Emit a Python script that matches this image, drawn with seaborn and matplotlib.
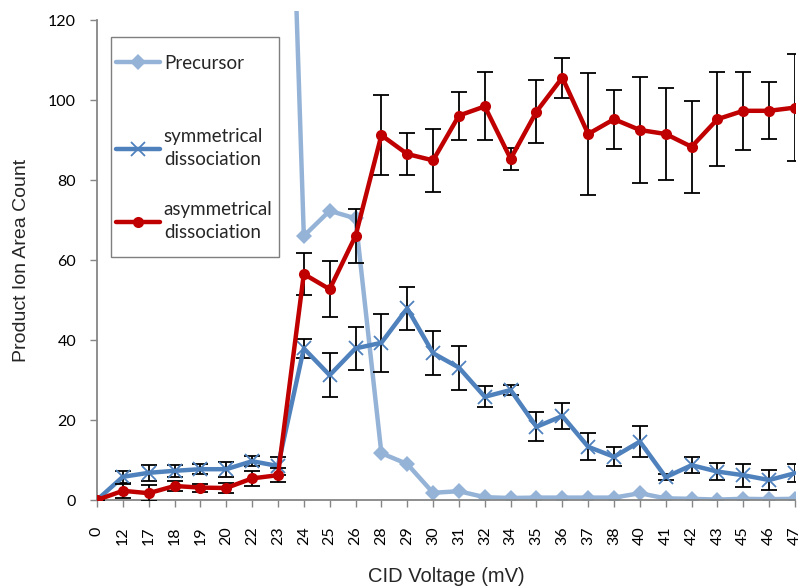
import numpy as np
import pandas as pd
import matplotlib
matplotlib.use("Agg")
import matplotlib.pyplot as plt
from matplotlib.patches import Rectangle
import seaborn as sns

voltages = ["0", "12", "17", "18", "19", "20", "22", "23", "24", "25", "26", "28", "29", "30",
            "31", "32", "34", "35", "36", "37", "38", "40", "41", "42", "43", "45", "46", "47"]

precursor = [300, 300, 300, 300, 300, 295, 285, 266, 66, 72.3, 70.4, 11.7, 9.0, 1.8,
             2.2, 0.7, 0.5, 0.6, 0.6, 0.6, 0.6, 1.7, 0.4, 0.3, 0.1, 0.3, 0.2, 0.3]

sym = [0, 5.8, 6.8, 7.3, 7.7, 7.7, 9.7, 8.5, 37.9, 31.2, 37.9, 39.3, 47.9, 36.7,
       33.1, 25.8, 27.5, 18.3, 21.0, 13.3, 10.8, 14.6, 5.7, 8.7, 7.1, 6.2, 5.0, 6.7]
sym_err = [0, 1.5, 2.0, 1.5, 1.2, 1.9, 1.2, 2.3, 2.4, 5.5, 5.3, 7.3, 5.4, 5.5,
           5.5, 2.6, 1.2, 3.6, 3.3, 3.4, 2.4, 3.8, 0.8, 2.0, 2.1, 2.9, 2.6, 2.3]

asym = [0, 2.3, 1.7, 3.5, 3.1, 3.0, 5.4, 6.2, 56.5, 52.7, 66.0, 91.2, 86.5, 84.9,
        96.1, 98.4, 85.3, 97.1, 105.6, 91.5, 95.2, 92.5, 91.5, 88.3, 95.2, 97.3, 97.3, 98.1]
asym_err = [0, 1.8, 2.0, 1.3, 1.0, 1.3, 1.8, 1.8, 5.3, 7.0, 6.8, 10.0, 5.3, 7.9,
            6.0, 8.5, 2.7, 7.8, 5.0, 15.3, 7.4, 13.3, 11.5, 11.5, 11.7, 9.8, 7.1, 13.4]

labels = ["Precursor", "symmetrical\ndissociation", "asymmetrical\ndissociation"]
colors = ["#95B3D7", "#4F81BD", "#C00000"]

pos = np.arange(len(voltages))
df = pd.DataFrame({"pos": pos, "precursor": precursor, "sym": sym, "asym": asym})

sns.set_style("white")
plt.rcParams['font.family'] = ['Liberation Sans', 'DejaVu Sans']

fig = plt.figure(figsize=(8.04, 5.88), dpi=100)
ax = fig.add_axes([97 / 804, 1 - 500 / 588, 698 / 804, 480 / 588])

sns.lineplot(data=df, x="pos", y="precursor", ax=ax, color=colors[0], linewidth=3.2,
             marker="D", markersize=8, markeredgewidth=0, label=labels[0], zorder=2)
prec_line = ax.lines[-1]
ax.errorbar(pos, sym, yerr=sym_err, fmt="none", ecolor="black", elinewidth=1.3,
            capsize=5.5, capthick=1.3, zorder=3)
sns.lineplot(data=df, x="pos", y="sym", ax=ax, color=colors[1], linewidth=3.2,
             marker="x", markersize=10, markeredgewidth=1.3, markeredgecolor=colors[1],
             label=labels[1], zorder=3)
ax.errorbar(pos, asym, yerr=asym_err, fmt="none", ecolor="black", elinewidth=1.3,
            capsize=5.5, capthick=1.3, zorder=4)
sns.lineplot(data=df, x="pos", y="asym", ax=ax, color=colors[2], linewidth=3.2,
             marker="o", markersize=8, markeredgewidth=0, label=labels[2], zorder=4)

ax.set_xlim(0, len(voltages) - 1)
ax.set_ylim(0, 120)

# the plot area extends a little above the 120 tick, as in the reference
clip = Rectangle((0, 0), 1, 1.018, transform=ax.transAxes, facecolor="none", edgecolor="none")
ax.add_patch(clip)
prec_line.set_clip_path(clip)

ax.set_yticks(np.arange(0, 121, 20))
ax.set_xticks(pos)
ax.set_xticklabels(voltages, rotation=90, fontfamily="Lato", fontsize=11.5)
for t in ax.get_yticklabels():
    t.set_fontfamily("Lato")
    t.set_fontsize(11.5)

for side in ["top", "right"]:
    ax.spines[side].set_visible(False)
for side in ["left", "bottom"]:
    ax.spines[side].set_color("#868686")
    ax.spines[side].set_linewidth(1.3)
ax.tick_params(axis="both", which="major", direction="out", length=5, width=1,
               color="#868686", labelcolor="black")
ax.tick_params(axis="x", bottom=True, pad=14)
ax.tick_params(axis="y", left=True, pad=10)

ax.set_xlabel("CID Voltage (mV)", fontsize=14.5, labelpad=16)
ax.set_ylabel("Product Ion Area Count", fontsize=14, labelpad=13)

# legend frame (box from the reference layout)
frame = Rectangle((14 / 698, (500 - 257) / 480), 168 / 698, 220 / 480,
                  transform=ax.transAxes, facecolor="white", edgecolor="#7f7f7f",
                  linewidth=1.0, zorder=5, clip_on=False)
ax.add_patch(frame)

handles, hlabels = ax.get_legend_handles_labels()
leg_kw = dict(loc="upper left", borderaxespad=0, borderpad=0, frameon=False,
              handlelength=2.35, handletextpad=0.2, prop={"family": "Lato", "size": 13.5})
leg1 = ax.legend(handles[:1], hlabels[:1], bbox_to_anchor=(19 / 698, (500 - 55) / 480),
                 **leg_kw)
leg1.set_zorder(6)
ax.add_artist(leg1)
leg2 = ax.legend(handles[1:], hlabels[1:], bbox_to_anchor=(19 / 698, (500 - 128) / 480),
                 labelspacing=1.75, **leg_kw)
for t in leg2.get_texts():
    t.set_linespacing(1.45)
leg2.set_zorder(6)

fig.savefig("out.png", dpi=100)
